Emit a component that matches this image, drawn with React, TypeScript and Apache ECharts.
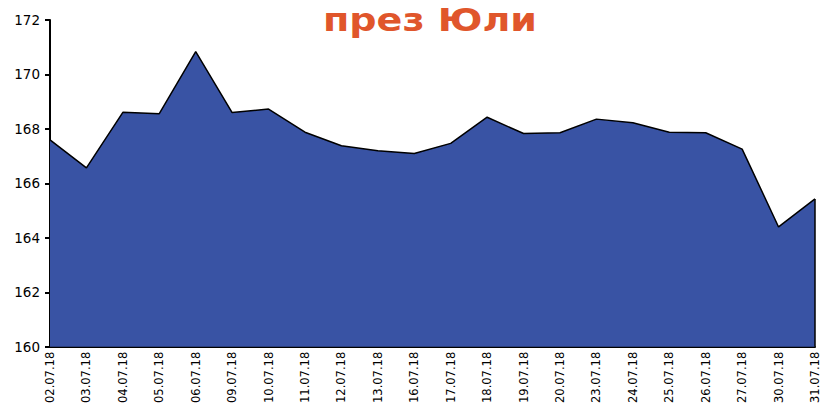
import React, { useEffect, useRef } from "react";
import * as echarts from "echarts";

const categories = [
  "02.07.18", "03.07.18", "04.07.18", "05.07.18", "06.07.18", "09.07.18",
  "10.07.18", "11.07.18", "12.07.18", "13.07.18", "16.07.18", "17.07.18",
  "18.07.18", "19.07.18", "20.07.18", "23.07.18", "24.07.18", "25.07.18",
  "26.07.18", "27.07.18", "30.07.18", "31.07.18",
];
const values = [
  167.6, 166.57, 168.61, 168.56, 170.84, 168.6,
  168.73, 167.88, 167.38, 167.2, 167.1, 167.47,
  168.43, 167.83, 167.86, 168.36, 168.23, 167.88,
  167.86, 167.26, 164.4, 165.43,
];
const titleText = "през Юли";
const yMin = 160;
const yMax = 172;
const yStep = 2;

export default function App() {
  const ref = useRef<HTMLDivElement>(null);
  useEffect(() => {
    if (!ref.current) return;
    const chart = echarts.init(ref.current, null, { renderer: "svg" });
    const last = categories.length - 1;
    chart.setOption({
      animation: false,
      backgroundColor: "#ffffff",
      graphic: [
        {
          type: "text",
          x: 430,
          y: 19.5,
          scaleX: 1.19,
          style: {
            text: titleText,
            align: "center",
            verticalAlign: "middle",
            fill: "#e0562b",
            fontFamily: "DejaVu Sans",
            fontWeight: "bold",
            fontSize: 32,
          },
        },
      ],
      grid: { left: 50, right: 4, top: 20, bottom: 59 },
      xAxis: {
        type: "category",
        data: categories,
        boundaryGap: false,
        axisLine: { lineStyle: { color: "#000", width: 2 } },
        axisTick: { show: false },
        axisLabel: {
          rotate: 90,
          margin: 5,
          color: "#000",
          fontFamily: "DejaVu Sans",
          fontSize: 11.5,
          interval: 0,
        },
      },
      yAxis: {
        type: "value",
        min: yMin,
        max: yMax,
        interval: yStep,
        splitLine: { show: false },
        axisLine: { show: true, lineStyle: { color: "#000", width: 2 } },
        axisTick: { show: true, length: 5, lineStyle: { color: "#000", width: 2 } },
        axisLabel: {
          margin: 10,
          color: "#000",
          fontFamily: "DejaVu Sans",
          fontSize: 13.5,
        },
      },
      series: [
        {
          type: "line",
          data: values,
          symbol: "none",
          lineStyle: { color: "#000", width: 1.5 },
          areaStyle: { color: "#3953a4", opacity: 1, origin: "start" },
          markLine: {
            symbol: "none",
            silent: true,
            label: { show: false },
            lineStyle: { color: "#000", width: 1.5, type: "solid" },
            data: [
              [
                { coord: [categories[last], yMin] },
                { coord: [categories[last], values[last]] },
              ],
            ],
          },
        },
      ],
    });
    return () => chart.dispose();
  }, []);
  return (
    <div
      ref={ref}
      style={{ position: "absolute", left: 0, top: 0, width: 821, height: 406 }}
    />
  );
}
